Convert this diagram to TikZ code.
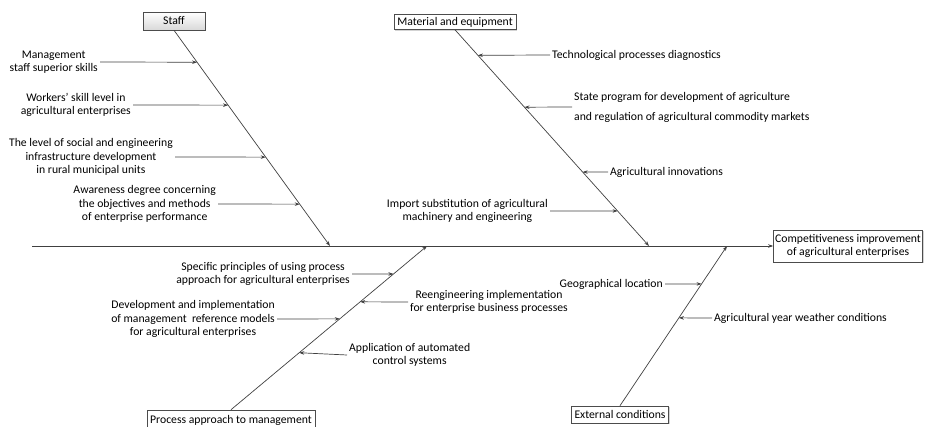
\documentclass[tikz,border=0pt]{standalone}
\usepackage{fontspec}
\setmainfont{Carlito}
\usetikzlibrary{arrows.meta,shadows,calc}
\begin{document}
\begin{tikzpicture}[x=1pt,y=-1pt,
  font=\fontsize{11.7}{13.6}\selectfont,
  bone/.style={draw=black!75, line width=0.7pt},
  cause/.style={bone,-{Stealth[length=5pt,width=3.5pt]}},
  catbox/.style={draw=black!70, line width=0.6pt, fill=white, inner sep=1pt,
    drop shadow={shadow xshift=1.2pt,shadow yshift=-1.2pt,opacity=0.35}},
  lbl/.style={align=center, inner sep=2pt}]
\useasboundingbox (0,0) rectangle (925,427);

% category boxes and the effect box
\node[catbox, top color=white, bottom color=black!15, minimum width=62pt, minimum height=18pt] (staff) at (174,21) {Staff};
\node[catbox, minimum width=122pt, minimum height=15pt] (mat) at (455,22) {Material and equipment};
\node[catbox, minimum width=149pt, minimum height=32pt, align=center] (goal) at (848,246)
  {Competitiveness improvement\\of agricultural enterprises};
\node[catbox, minimum width=97pt, minimum height=17pt] (ext) at (620,414.5) {External conditions};
\node[catbox, minimum width=168pt, minimum height=20pt] (proc) at (231,420) {Process approach to management};

% main spine
\coordinate (tail) at (32,246);
\coordinate (hS) at (330,246);
\coordinate (hM) at (649,246);
\coordinate (hP) at (427,246);
\coordinate (hE) at (727,246);
\draw[cause] (tail) -- (goal.west);

% category bones
\draw[cause] (staff.south) -- (hS);
\draw[cause] (mat.south) -- (hM);
\draw[cause] (proc.north) -- (hP);
\draw[cause] (ext.north) -- (hE);

% points on the bones
\coordinate (s1) at ($(staff.south)!0.148!(hS)$);
\coordinate (s2) at ($(staff.south)!0.347!(hS)$);
\coordinate (s3) at ($(staff.south)!0.588!(hS)$);
\coordinate (s4) at ($(staff.south)!0.806!(hS)$);
\coordinate (m1) at ($(mat.south)!0.118!(hM)$);
\coordinate (m2) at ($(mat.south)!0.358!(hM)$);
\coordinate (m3) at ($(mat.south)!0.658!(hM)$);
\coordinate (m4) at ($(mat.south)!0.838!(hM)$);
\coordinate (p1) at ($(proc.north)!0.829!(hP)$);
\coordinate (p2) at ($(proc.north)!0.659!(hP)$);
\coordinate (p3) at ($(proc.north)!0.555!(hP)$);
\coordinate (p4) at ($(proc.north)!0.348!(hP)$);
\coordinate (e1) at ($(ext.north)!0.7625!(hE)$);
\coordinate (e2) at ($(ext.north)!0.55!(hE)$);

% Staff causes
\node[lbl, anchor=east] (c1) at (100,62) {Management\\staff superior skills};
\node[lbl, anchor=east] (c2) at (133,105) {Workers’ skill level in\\agricultural enterprises};
\node[lbl, anchor=east] (c3) at (175,157) {The level of social and engineering\\infrastructure development\\in rural municipal units};
\node[lbl, anchor=east] (c4) at (218,204) {Awareness degree concerning\\the objectives and methods\\of enterprise performance};
\draw[cause] (c1.east) -- (s1);
\draw[cause] (c2.east) -- (s2);
\draw[cause] (c3.east) -- (s3);
\draw[cause] (c4.east) -- (s4);

% Material and equipment causes
\node[lbl, anchor=west] (d1) at (550,55) {Technological processes diagnostics};
\node[lbl, anchor=west, align=left] (d2) at (572,107) {State program for development of agriculture\\[6.5pt]and regulation of agricultural commodity markets};
\node[lbl, anchor=west] (d3) at (608,172) {Agricultural innovations};
\node[lbl, anchor=east] (d4) at (550,211) {Import substitution of agricultural\\machinery and engineering};
\draw[cause] (d1.west) -- (m1);
\draw[cause] (d2.west) -- (m2);
\draw[cause] (d3.west) -- (m3);
\draw[cause] (d4.east) -- (m4);

% Process approach causes
\node[lbl, anchor=east] (f1) at (352,274) {Specific principles of using process\\approach for agricultural enterprises};
\node[lbl, anchor=west] (f2) at (408,302) {Reengineering implementation\\for enterprise business processes};
\node[lbl, anchor=east] (f3) at (277,319) {Development and implementation\\of management\ \ reference models\\for agricultural enterprises};
\node[lbl, anchor=west] (f4) at (347,355) {Application of automated\\control systems};
\draw[cause] (f1.east) -- (p1);
\draw[cause] (f2.west) -- (p2);
\draw[cause] (f3.east) -- (p3);
\draw[cause] (f4.west) -- (p4);

% External conditions causes
\node[lbl, anchor=east] (g1) at (665,284) {Geographical location};
\node[lbl, anchor=west] (g2) at (712,318) {Agricultural year weather conditions};
\draw[cause] (g1.east) -- (e1);
\draw[cause] (g2.west) -- (e2);
\end{tikzpicture}
\end{document}
